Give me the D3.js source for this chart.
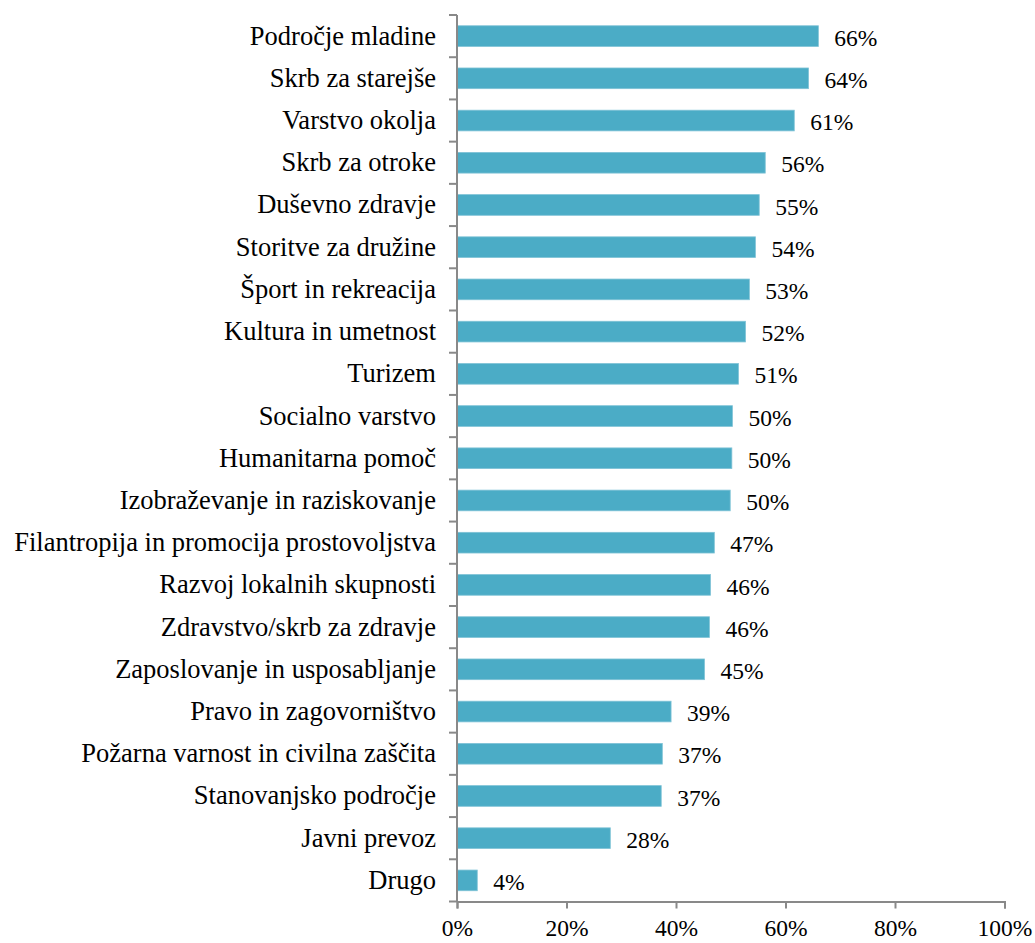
<!DOCTYPE html>
<html>
<head>
<meta charset="utf-8">
<script src="https://cdn.jsdelivr.net/npm/d3@7"></script>
<style>
html,body{margin:0;padding:0;background:#fff;}
svg{display:block;}
</style>
</head>
<body>
<svg id="chart" width="1035" height="943"></svg>
<script>
const categories = [
  "Področje mladine","Skrb za starejše","Varstvo okolja","Skrb za otroke","Duševno zdravje",
  "Storitve za družine","Šport in rekreacija","Kultura in umetnost","Turizem","Socialno varstvo",
  "Humanitarna pomoč","Izobraževanje in raziskovanje","Filantropija in promocija prostovoljstva",
  "Razvoj lokalnih skupnosti","Zdravstvo/skrb za zdravje","Zaposlovanje in usposabljanje",
  "Pravo in zagovorništvo","Požarna varnost in civilna zaščita","Stanovanjsko področje",
  "Javni prevoz","Drugo"
];
const values = [66.0,64.2,61.6,56.3,55.2,54.5,53.4,52.7,51.4,50.3,50.2,49.9,47.0,46.3,46.1,45.2,39.1,37.5,37.3,28.0,3.7];
const valueLabels = ["66%","64%","61%","56%","55%","54%","53%","52%","51%","50%","50%","50%","47%","46%","46%","45%","39%","37%","37%","28%","4%"];
const tickValues = [0,20,40,60,80,100];

(function(){
const svg = d3.select("#chart");
const L = 457, R = 1004.5, T = 15, B = 901.5;
const x = d3.scaleLinear().domain([0,100]).range([L,R]);
const y = d3.scaleBand().domain(categories).range([T,B]).paddingInner(0.51).paddingOuter(0.255);
const font = "Liberation Serif";
const axisColor = "#898989";

svg.append("g").selectAll("rect").data(categories).join("rect")
  .attr("x", x(0))
  .attr("y", d => y(d))
  .attr("width", (d,i) => x(values[i]) - x(0))
  .attr("height", y.bandwidth())
  .attr("fill", "#4bacc6")
  .attr("stroke", "#7fc3d6")
  .attr("stroke-width", 0.8);

svg.append("g").selectAll("text").data(categories).join("text")
  .attr("x", (d,i) => x(values[i]) + 16)
  .attr("y", d => y(d) + y.bandwidth()/2)
  .attr("dy", "0.41em")
  .attr("font-family", font)
  .attr("font-size", 23.5)
  .attr("fill", "#000")
  .text((d,i) => valueLabels[i]);

const yg = svg.append("g");
yg.append("line").attr("x1", L).attr("x2", L).attr("y1", T).attr("y2", B)
  .attr("stroke", axisColor).attr("stroke-width", 2);
const bounds = d3.range(categories.length + 1).map(i => T + i * (B - T) / categories.length);
yg.selectAll("line.tk").data(bounds).join("line").attr("class","tk")
  .attr("x1", L - 8).attr("x2", L).attr("y1", d => d).attr("y2", d => d)
  .attr("stroke", axisColor).attr("stroke-width", 2);
yg.selectAll("text").data(categories).join("text")
  .attr("x", L - 21)
  .attr("y", d => y(d) + y.bandwidth()/2)
  .attr("dy", "0.32em")
  .attr("text-anchor", "end")
  .attr("font-family", font)
  .attr("font-size", 26.5)
  .attr("fill", "#000")
  .text(d => d);

const xAxis = d3.axisBottom(x).tickValues(tickValues).tickSize(7).tickFormat(d => d + "%");
const xg = svg.append("g").attr("transform", `translate(0,${B})`).call(xAxis);
xg.attr("font-family", font).attr("font-size", 23.5);
xg.select(".domain").attr("stroke", axisColor).attr("stroke-width", 2);
xg.selectAll(".tick line").attr("stroke", axisColor).attr("stroke-width", 2);
xg.selectAll(".tick text")
  .attr("font-family", font).attr("font-size", 23.5).attr("fill", "#000")
  .attr("y", 0).attr("dy", "1.48em");
})();
</script>
</body>
</html>
